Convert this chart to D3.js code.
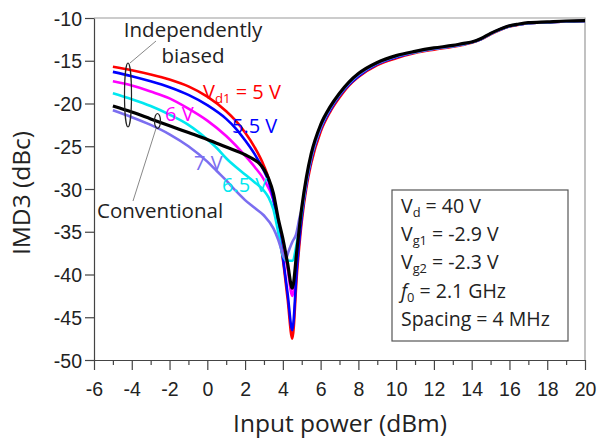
<!DOCTYPE html>
<meta charset="utf-8">
<style>
body { margin: 0; background: #fff; }
.tick text { font-family: "Liberation Sans", Arial, sans-serif; font-size: 19.5px; fill: #222; }
.lbl { font-family: "Open Sans", sans-serif; }
</style>
<body>
<script src="https://cdn.jsdelivr.net/npm/d3@7"></script>
<script>

// IMD3 vs input power, [Pin (dBm), IMD3 (dBc)]
var vd1_5V = [[-5,-15.7],[-4,-16.1],[-3,-16.6],[-2,-17.2],[-1,-18.0],[0,-19.2],[1,-20.9],[1.5,-22.0],[2,-23.4],[2.5,-25.1],[3,-27.3],[3.25,-28.8],[3.5,-31.1],[3.75,-34.5],[4,-38.2],[4.25,-42.8],[4.5,-47.5],
  [4.75,-39.8],[5,-33.8],[5.25,-29.8],[5.5,-27.0],[6,-23.3],[6.5,-21.0],[7,-19.3],[7.5,-17.9],[8,-16.9],[9,-15.5],[10,-14.7],[11,-14.1],[12,-13.7],[13,-13.35],[13.5,-13.15],[14,-12.9],[14.5,-12.5],[15,-11.9],[15.5,-11.4],[16,-11.0],[16.5,-10.8],[17,-10.6],[18,-10.5],[19,-10.4],[20,-10.35]];
var vd1_5p5V = [[-5,-16.3],[-4,-16.8],[-3,-17.4],[-2,-18.1],[-1,-19.0],[0,-20.2],[1,-21.8],[1.5,-22.9],[2,-24.3],[2.5,-25.9],[3,-27.9],[3.25,-29.1],[3.5,-31.2],[3.75,-34.5],[4,-38.0],[4.25,-42.2],[4.5,-46.5],
  [4.75,-39.0],[5,-33.3],[5.25,-29.4],[5.5,-26.6],[6,-23.0],[6.5,-20.8],[7,-19.1],[7.5,-17.8],[8,-16.8],[9,-15.4],[10,-14.6],[11,-14.0],[12,-13.6],[13,-13.3],[13.5,-13.1],[14,-12.85],[14.5,-12.45],[15,-11.85],[15.5,-11.35],[16,-10.95],[16.5,-10.75],[17,-10.6],[18,-10.5],[19,-10.4],[20,-10.35]];
var vd1_6V = [[-5,-17.4],[-4,-17.9],[-3,-18.6],[-2,-19.4],[-1,-20.6],[0,-22.0],[1,-23.8],[2,-26.1],[2.5,-27.4],[3,-28.9],[3.5,-31.3],[3.75,-33.6],[4,-36.3],[4.25,-39.3],[4.5,-42.5],
  [4.75,-37.8],[5,-32.9],[5.25,-29.2],[5.5,-26.4],[6,-22.9],[6.5,-20.7],[7,-19.0],[7.5,-17.7],[8,-16.7],[9,-15.35],[10,-14.55],[11,-14.0],[12,-13.6],[13,-13.3],[13.5,-13.1],[14,-12.85],[14.5,-12.45],[15,-11.85],[15.5,-11.35],[16,-10.95],[16.5,-10.75],[17,-10.6],[18,-10.5],[19,-10.4],[20,-10.35]];
var vd1_6p5V = [[-5,-18.8],[-4,-19.5],[-3,-20.3],[-2,-21.3],[-1,-22.5],[0,-24.2],[0.5,-25.2],[1,-26.4],[1.5,-27.4],[2,-28.3],[2.5,-29.2],[3,-30.2],[3.25,-31.0],[3.5,-32.4],[3.75,-35.0],[4,-37.8],[4.25,-38.4],[4.5,-38.4],
  [4.75,-36.2],[5,-32.7],[5.25,-29.0],[5.5,-26.3],[6,-22.8],[6.5,-20.6],[7,-18.95],[7.5,-17.65],[8,-16.65],[9,-15.3],[10,-14.5],[11,-14.0],[12,-13.6],[13,-13.3],[13.5,-13.1],[14,-12.85],[14.5,-12.45],[15,-11.85],[15.5,-11.35],[16,-10.95],[16.5,-10.75],[17,-10.6],[18,-10.5],[19,-10.4],[20,-10.35]];
var vd1_7V = [[-5,-20.8],[-4,-21.6],[-3,-22.5],[-2,-23.6],[-1,-25.0],[0,-26.8],[0.5,-27.9],[1,-29.0],[1.5,-30.2],[2,-31.3],[2.5,-32.2],[3,-33.1],[3.5,-34.6],[3.75,-35.9],[4,-37.6],[4.15,-38.2],[4.3,-37.3],[4.5,-36.2],[4.7,-35.3],[4.9,-33.2],
  [5,-32.4],[5.25,-29.0],[5.5,-26.3],[6,-22.8],[6.5,-20.6],[7,-18.95],[7.5,-17.65],[8,-16.65],[9,-15.3],[10,-14.5],[11,-14.0],[12,-13.6],[13,-13.3],[13.5,-13.1],[14,-12.85],[14.5,-12.45],[15,-11.85],[15.5,-11.35],[16,-10.95],[16.5,-10.75],[17,-10.6],[18,-10.5],[19,-10.4],[20,-10.35]];
var conventional = [[-5,-20.3],[-4,-21.0],[-3,-21.8],[-2,-22.6],[-1,-23.4],[0,-24.2],[1,-25.1],[2,-26.0],[2.5,-26.6],[2.75,-27.0],[3,-27.7],[3.25,-28.8],[3.5,-30.5],[3.75,-33.4],[4,-35.8],[4.25,-38.7],[4.5,-41.6],
  [4.75,-37.0],[5,-32.2],[5.25,-28.6],[5.5,-25.9],[6,-22.5],[6.5,-20.4],[7,-18.8],[7.5,-17.5],[8,-16.5],[9,-15.2],[10,-14.4],[11,-13.9],[12,-13.5],[13,-13.2],[13.5,-13.0],[14,-12.8],[14.5,-12.4],[15,-11.8],[15.5,-11.3],[16,-10.9],[16.5,-10.7],[17,-10.55],[18,-10.45],[19,-10.35],[20,-10.3]];

var xTicks = d3.range(-6, 21, 2);
var xMinor = d3.range(-5, 20, 2);
var yTicks = [-50, -45, -40, -35, -30, -25, -20, -15, -10];

var width = 600, height = 439;

var x = d3.scaleLinear().domain([-6, 20]).range([94, 585]);
var y = d3.scaleLinear().domain([-50, -10]).range([360, 18]);

var svg = d3.select("body").append("svg")
    .attr("width", width)
    .attr("height", height);

// frame top/right
svg.append("path")
    .attr("d", "M" + x(-6) + "," + y(-10) + "H" + x(20) + "V" + y(-50))
    .attr("fill", "none")
    .attr("stroke", "#999")
    .attr("stroke-width", 1.2);

// plain hyphen for negatives
var fmt = function(d) { return String(d); };

// x axis: minor ticks then major ticks
svg.append("g")
    .attr("transform", "translate(0," + y(-50) + ")")
    .call(d3.axisBottom(x).tickValues(xMinor).tickSize(5).tickFormat(""))
    .call(function(g) { g.select(".domain").remove(); })
    .selectAll("line").attr("stroke", "#444").attr("stroke-width", 1.2);
var gx = svg.append("g")
    .attr("transform", "translate(0," + y(-50) + ")")
    .call(d3.axisBottom(x).tickValues(xTicks).tickFormat(fmt).tickSize(10).tickSizeOuter(0).tickPadding(12));
gx.select(".domain").attr("stroke", "#444").attr("stroke-width", 1.2);
gx.selectAll("line").attr("stroke", "#444").attr("stroke-width", 1.2);

var gy = svg.append("g")
    .attr("transform", "translate(" + x(-6) + ",0)")
    .call(d3.axisLeft(y).tickValues(yTicks).tickFormat(fmt).tickSize(9).tickSizeOuter(0).tickPadding(3));
gy.select(".domain").attr("stroke", "#444").attr("stroke-width", 1.2);
gy.selectAll("line").attr("stroke", "#444").attr("stroke-width", 1.2);
gy.selectAll("text").attr("dy", "0.36em");

// axis titles
svg.append("text")
    .attr("class", "lbl")
    .attr("text-anchor", "middle")
    .attr("transform", "translate(30,193)rotate(-90)")
    .style("font-size", "24.5px")
    .attr("fill", "#222")
    .text("IMD3 (dBc)");

svg.append("text")
    .attr("class", "lbl")
    .attr("text-anchor", "middle")
    .attr("x", 340)
    .attr("y", 432)
    .style("font-size", "24.5px")
    .attr("fill", "#222")
    .text("Input power (dBm)");

// curves
var line = d3.line()
    .x(function(d) { return x(d[0]); })
    .y(function(d) { return y(d[1]); })
    .curve(d3.curveMonotoneX);

var series = [
  {data: vd1_5V, color: "#ff0000", w: 2.6},
  {data: vd1_6V, color: "#ff00ff", w: 2.6},
  {data: vd1_5p5V, color: "#0000ff", w: 2.6},
  {data: vd1_6p5V, color: "#00e8f0", w: 2.6},
  {data: vd1_7V, color: "#7b6ef0", w: 2.6},
  {data: conventional, color: "#000000", w: 3.2}
];

svg.append("g").selectAll("path")
    .data(series)
  .enter().append("path")
    .attr("d", function(d) { return line(d.data); })
    .attr("fill", "none")
    .attr("stroke", function(d) { return d.color; })
    .attr("stroke-width", function(d) { return d.w; })
    .attr("stroke-linejoin", "round");

// text with an optional subscript part
function subLabel(xp, yp, color, main, sub, rest, size) {
  var t = svg.append("text").attr("class", "lbl")
      .attr("x", xp).attr("y", yp)
      .attr("fill", color)
      .style("font-size", size + "px");
  t.append("tspan").text(main);
  if (sub) {
    t.append("tspan").attr("dy", size * 0.2).style("font-size", (size * 0.66) + "px").text(sub);
    t.append("tspan").attr("dy", -size * 0.2).text(rest);
  }
  return t;
}
subLabel(203, 99, "#ff0000", "V", "d1", " = 5 V", 20);
subLabel(232, 133, "#0000ff", "5.5 V", null, null, 20);
subLabel(165, 121, "#ff00ff", "6 V", null, null, 20);
subLabel(194, 170, "#7b6ef0", "7 V", null, null, 20);
subLabel(222, 192, "#00e8f0", "6.5 V", null, null, 20);

// group annotations
svg.append("text").attr("class", "lbl")
    .attr("x", 193).attr("y", 37)
    .attr("text-anchor", "middle")
    .style("font-size", "20.5px").attr("fill", "#222")
    .text("Independently");
svg.append("text").attr("class", "lbl")
    .attr("x", 193).attr("y", 63)
    .attr("text-anchor", "middle")
    .style("font-size", "20.5px").attr("fill", "#222")
    .text("biased");
svg.append("ellipse")
    .attr("cx", 128).attr("cy", 95).attr("rx", 3.5).attr("ry", 32)
    .attr("fill", "none").attr("stroke", "#222").attr("stroke-width", 1.2);
svg.append("line")
    .attr("x1", 130).attr("y1", 63).attr("x2", 156).attr("y2", 41)
    .attr("stroke", "#888").attr("stroke-width", 1);

svg.append("ellipse")
    .attr("cx", 157.5).attr("cy", 121).attr("rx", 3).attr("ry", 7.5)
    .attr("fill", "none").attr("stroke", "#222").attr("stroke-width", 1.2);
svg.append("line")
    .attr("x1", 156).attr("y1", 128.5).attr("x2", 133).attr("y2", 201)
    .attr("stroke", "#888").attr("stroke-width", 1);
svg.append("text").attr("class", "lbl")
    .attr("x", 97).attr("y", 218)
    .style("font-size", "20.5px").attr("fill", "#222")
    .text("Conventional");

// conditions box
svg.append("rect")
    .attr("x", 392).attr("y", 190).attr("width", 176).attr("height", 151)
    .attr("fill", "#fff").attr("stroke", "#555").attr("stroke-width", 1.2);

var conds = [
  {main: "V", sub: "d", rest: " = 40 V"},
  {main: "V", sub: "g1", rest: " = -2.9 V"},
  {main: "V", sub: "g2", rest: " = -2.3 V"},
  {main: "f", sub: "0", rest: " = 2.1 GHz", italic: true},
  {main: "Spacing = 4 MHz"}
];
conds.forEach(function(c, i) {
  var t = subLabel(401, 213 + i * 28.2, "#222", c.main, c.sub, c.rest, 19.5);
  if (c.italic) t.select("tspan").style("font-style", "italic");
});

</script>
</body>
